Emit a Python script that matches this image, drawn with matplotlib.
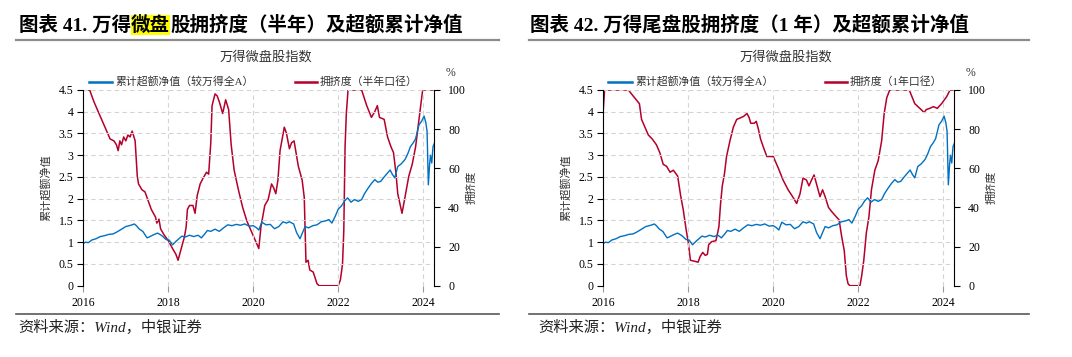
import numpy as np
import matplotlib
matplotlib.use("Agg")
import matplotlib.pyplot as plt
from matplotlib.lines import Line2D

# values (decimal years)
excess_year = [2016.00, 2016.05, 2016.12, 2016.20, 2016.30, 2016.40, 2016.50, 2016.60, 2016.70, 2016.80,
               2016.90, 2017.00, 2017.08, 2017.15, 2017.20, 2017.25, 2017.32, 2017.40, 2017.50, 2017.55,
               2017.65, 2017.75, 2017.85, 2017.95, 2018.02, 2018.10, 2018.18, 2018.25, 2018.32, 2018.40,
               2018.50, 2018.60, 2018.70, 2018.78, 2018.85, 2018.92, 2019.00, 2019.10, 2019.20, 2019.30,
               2019.40, 2019.50, 2019.60, 2019.70, 2019.80, 2019.90, 2020.00, 2020.08, 2020.13, 2020.20,
               2020.30, 2020.40, 2020.50, 2020.60, 2020.70, 2020.78, 2020.85, 2020.95, 2021.02, 2021.10,
               2021.15, 2021.22, 2021.30, 2021.40, 2021.50, 2021.60, 2021.70, 2021.78, 2021.85, 2021.93,
               2022.00, 2022.08, 2022.15, 2022.22, 2022.30, 2022.38, 2022.47, 2022.55, 2022.62, 2022.70,
               2022.78, 2022.86, 2022.93, 2023.00, 2023.08, 2023.15, 2023.22, 2023.28, 2023.33, 2023.40,
               2023.48, 2023.57, 2023.63, 2023.70, 2023.76, 2023.82, 2023.90, 2023.96, 2024.02, 2024.06,
               2024.09, 2024.12, 2024.15, 2024.17, 2024.20, 2024.23, 2024.26]
excess_val = [0.97, 1.00, 0.99, 1.05, 1.08, 1.13, 1.15, 1.18, 1.19, 1.24,
              1.30, 1.36, 1.38, 1.40, 1.42, 1.38, 1.30, 1.25, 1.10, 1.12,
              1.17, 1.21, 1.15, 1.06, 1.05, 0.94, 1.02, 1.08, 1.14, 1.12,
              1.16, 1.13, 1.16, 1.10, 1.18, 1.27, 1.25, 1.30, 1.25, 1.33,
              1.40, 1.38, 1.41, 1.39, 1.42, 1.37, 1.38, 1.33, 1.28, 1.46,
              1.40, 1.41, 1.31, 1.36, 1.47, 1.44, 1.47, 1.42, 1.22, 1.08,
              1.20, 1.36, 1.33, 1.38, 1.40, 1.47, 1.49, 1.52, 1.44, 1.60,
              1.76, 1.84, 1.95, 2.02, 1.92, 1.98, 1.94, 1.98, 2.12, 2.24,
              2.35, 2.44, 2.38, 2.40, 2.50, 2.58, 2.66, 2.55, 2.48, 2.74,
              2.80, 2.90, 3.02, 3.20, 3.28, 3.38, 3.70, 3.78, 3.90, 3.75,
              3.55, 2.32, 2.80, 3.00, 2.82, 3.20, 3.27]

crowd_half_year = [2016.00, 2016.15, 2016.25, 2016.35, 2016.43, 2016.55, 2016.63, 2016.72, 2016.78, 2016.82,
                   2016.86, 2016.90, 2016.95, 2017.00, 2017.05, 2017.10, 2017.15, 2017.22, 2017.27, 2017.30,
                   2017.38, 2017.45, 2017.50, 2017.60, 2017.70, 2017.73, 2017.78, 2017.82, 2017.90, 2018.00,
                   2018.10, 2018.18, 2018.23, 2018.28, 2018.33, 2018.38, 2018.42, 2018.45, 2018.50, 2018.58,
                   2018.63, 2018.68, 2018.75, 2018.82, 2018.90, 2018.95, 2019.00, 2019.03, 2019.10, 2019.15,
                   2019.20, 2019.28, 2019.35, 2019.42, 2019.48, 2019.55, 2019.65, 2019.75, 2019.85, 2019.95,
                   2020.03, 2020.13, 2020.18, 2020.27, 2020.35, 2020.43, 2020.48, 2020.53, 2020.58, 2020.63,
                   2020.73, 2020.78, 2020.85, 2020.90, 2020.96, 2021.06, 2021.15, 2021.20, 2021.24, 2021.29,
                   2021.33, 2021.41, 2021.50, 2021.55, 2022.00, 2022.05, 2022.10, 2022.13, 2022.16, 2022.19,
                   2022.23, 2022.55, 2022.67, 2022.78, 2022.86, 2022.92, 2022.97, 2023.08, 2023.16, 2023.24,
                   2023.30, 2023.36, 2023.40, 2023.45, 2023.50, 2023.56, 2023.66, 2023.74, 2023.82, 2023.90,
                   2023.98, 2024.00, 2024.26]
crowd_half_val = [100, 100, 94, 89, 85, 79, 75, 74, 72, 69,
                  74, 72, 76, 74, 77, 76, 79, 74, 56, 52,
                  49, 48, 45, 39, 35, 32, 34, 29, 26, 23,
                  19, 16, 13, 17, 21, 25, 30, 39, 41, 41,
                  37, 46, 52, 55, 58, 57, 73, 92, 98, 97,
                  94, 88, 95, 90, 72, 59, 49, 40, 33, 28,
                  24, 19, 30, 41, 44, 52, 50, 47, 54, 69,
                  81, 78, 70, 73, 74, 61, 54, 45, 12, 13,
                  8, 7, 1, 0, 0, 3, 11, 28, 71, 88,
                  100, 100, 92, 86, 89, 92, 86, 85, 76, 71,
                  68, 57, 47, 42, 37, 44, 56, 62, 71, 85,
                  99, 100, 100]

crowd_one_year = [2016.00, 2016.03, 2016.59, 2016.70, 2016.85, 2016.90, 2017.00, 2017.06, 2017.15, 2017.25,
                  2017.33, 2017.41, 2017.49, 2017.57, 2017.65, 2017.75, 2017.82, 2017.88, 2017.94, 2018.00,
                  2018.05, 2018.15, 2018.23, 2018.28, 2018.34, 2018.40, 2018.45, 2018.48, 2018.55, 2018.65,
                  2018.72, 2018.76, 2018.80, 2018.85, 2018.90, 2018.98, 2019.06, 2019.14, 2019.20, 2019.30,
                  2019.38, 2019.43, 2019.47, 2019.55, 2019.60, 2019.65, 2019.70, 2019.78, 2019.85, 2020.00,
                  2020.12, 2020.23, 2020.35, 2020.47, 2020.55, 2020.63, 2020.70, 2020.78, 2020.84, 2020.90,
                  2020.96, 2021.03, 2021.10, 2021.16, 2021.22, 2021.30, 2021.37, 2021.45, 2021.55, 2021.61,
                  2021.67, 2021.72, 2021.76, 2021.80, 2022.04, 2022.08, 2022.13, 2022.19, 2022.25, 2022.31,
                  2022.39, 2022.47, 2022.55, 2022.61, 2022.67, 2022.74, 2023.20, 2023.33, 2023.45, 2023.55,
                  2023.60, 2023.68, 2023.77, 2023.86, 2023.96, 2024.08, 2024.16, 2024.26]
crowd_one_val = [90, 100, 100, 97, 93, 85, 80, 77, 75, 72,
                 68, 62, 61, 58, 59, 56, 46, 39, 30, 22,
                 13, 12.5, 12, 15, 17, 15.5, 16, 21, 22.5, 23,
                 30, 42, 51, 57, 66, 74, 81, 85, 85.5, 86.5,
                 88, 86, 83, 83, 84, 80, 75, 70, 66, 66,
                 60, 54, 49, 45, 42, 47, 55, 54, 51, 54,
                 56.6, 51, 45.5, 49, 45.5, 40, 38, 36, 33.6, 25,
                 18, 5, 1, 0, 0, 5, 13, 27, 35, 49,
                 59, 64, 74, 88, 96, 100, 100, 93, 90.6, 88.5,
                 90, 90.6, 91.5, 90.6, 93, 96.6, 100, 100]

year_ticks = [2016, 2018, 2020, 2022, 2024]
left_ticks = [0, 0.5, 1, 1.5, 2, 2.5, 3, 3.5, 4, 4.5]
right_ticks = [0, 20, 40, 60, 80, 100]

W, H = 1072, 357
BLUE = "#0070C0"
RED = "#B4002B"
CJK = "Noto Sans CJK SC"
SERIF = ["Liberation Serif", CJK]

fig = plt.figure(figsize=(W / 100, H / 100), dpi=100)
renderer = fig.canvas.get_renderer()


def fx(px):
    return px / W


def fy(py):
    return 1 - py / H


# title made of pieces, some with a yellow marker behind
def drawTitle(x, y, pieces):
    for txt, hl in pieces:
        t = fig.text(fx(x), fy(y), txt, fontsize=14, weight="bold", family=SERIF,
                     ha="left", va="center", color="black")
        if hl:
            t.set_bbox(dict(facecolor="#FFFF00", edgecolor="none", pad=0))
        x += t.get_window_extent(renderer).width


def hrule(x0, x1, y, color, lw):
    fig.add_artist(Line2D([fx(x0), fx(x1)], [fy(y), fy(y)], color=color, lw=lw))


# one panel: left axis excess nav, right axis crowding
def drawPanel(x0, crowd_x, crowd_y, red_label, leg):
    ax = fig.add_axes([fx(x0), fy(285.7), fx(351), 195.7 / H])
    ax2 = ax.twinx()
    ax.set_zorder(ax2.get_zorder() + 1)
    ax.patch.set_visible(False)

    ax.plot(excess_year, excess_val, color=BLUE, lw=1.0)
    ax2.plot(crowd_x, crowd_y, color=RED, lw=1.1)

    ax.set_xlim(2016, 2024.26)
    ax.set_ylim(0, 4.5)
    ax2.set_ylim(0, 100)
    ax.set_xticks(year_ticks)
    ax.set_xticklabels([str(y) for y in year_ticks], family=SERIF, fontsize=8.5)
    ax.set_yticks(left_ticks)
    ax.set_yticklabels([f"{v:g}" for v in left_ticks], family=SERIF, fontsize=8.5)
    ax2.set_yticks(right_ticks)
    ax2.set_yticklabels([str(v) for v in right_ticks], family=SERIF, fontsize=8.5)

    for yv in left_ticks[1:]:
        ax.axhline(yv, color="#D4D4D4", lw=0.8, ls=(0, (4, 3)), zorder=0)
    for xv in year_ticks[1:]:
        ax.axvline(xv, color="#D4D4D4", lw=0.8, ls=(0, (4, 3)), zorder=0)

    for a in (ax, ax2):
        a.spines["top"].set_visible(False)
        a.spines["bottom"].set_visible(False)
    ax.spines["right"].set_visible(False)
    ax.spines["left"].set_color("black")
    ax2.spines["right"].set_color("black")
    ax2.spines["left"].set_visible(False)
    ax.tick_params(axis="y", length=4, width=0.8, pad=3, colors="black")
    ax.tick_params(axis="x", length=4, width=0.8, pad=4, color="#999999", labelcolor="black")
    ax2.tick_params(axis="y", length=4, width=0.8, pad=6, colors="black")

    # axis names, subtitle, % sign
    fig.text(fx(x0 - 37), fy(188), "累计超额净值", rotation=90, family=CJK, fontsize=8,
             ha="center", va="center", color="#333333")
    fig.text(fx(x0 + 388), fy(187), "拥挤度", rotation=90, family=CJK, fontsize=8,
             ha="center", va="center", color="#333333")
    fig.text(fx(x0 + 183), fy(57.5), "万得微盘股指数", family=CJK, fontsize=9.5,
             ha="center", va="center", color="#333333")
    fig.text(fx(x0 + 367), fy(72.5), "%", family=SERIF, fontsize=8.5,
             ha="center", va="center", color="#333333")

    # legend drawn by hand
    bx0, bx1, rx0, rx1 = leg
    fig.add_artist(Line2D([fx(bx0), fx(bx1)], [fy(81.5), fy(81.5)], color=BLUE, lw=1.8))
    fig.text(fx(bx1 + 3), fy(81.5), "累计超额净值（较万得全A）", family=SERIF, fontsize=7.8,
             ha="left", va="center", color="#333333")
    fig.add_artist(Line2D([fx(rx0), fx(rx1)], [fy(81.5), fy(81.5)], color=RED, lw=1.8))
    fig.text(fx(rx1 + 3), fy(81.5), red_label, family=SERIF, fontsize=7.8,
             ha="left", va="center", color="#333333")
    return ax


drawTitle(19, 25, [("图表 41. 万得", False), ("微盘", True), ("股拥挤度（半年）及超额累计净值", False)])
drawTitle(530, 25, [("图表 42. 万得尾盘股拥挤度（1 年）及超额累计净值", False)])

hrule(16, 499, 40, "#8C8C8C", 1.6)
hrule(529, 1029, 40, "#8C8C8C", 1.6)
hrule(16, 499, 314.3, "#595959", 1.2)
hrule(529, 1029, 314.3, "#595959", 1.2)

drawPanel(83.3, crowd_half_year, crowd_half_val, "拥挤度（半年口径）", (89, 112, 295, 317))
drawPanel(603.3, crowd_one_year, crowd_one_val, "拥挤度（1年口径）", (608, 632, 825, 847))

for x in (18, 538):
    fig.text(fx(x), fy(327.5), "资料来源：Wind，中银证券", family=SERIF, style="italic",
             fontsize=11, ha="left", va="center", color="#222222")

fig.savefig("out.png", dpi=100)
